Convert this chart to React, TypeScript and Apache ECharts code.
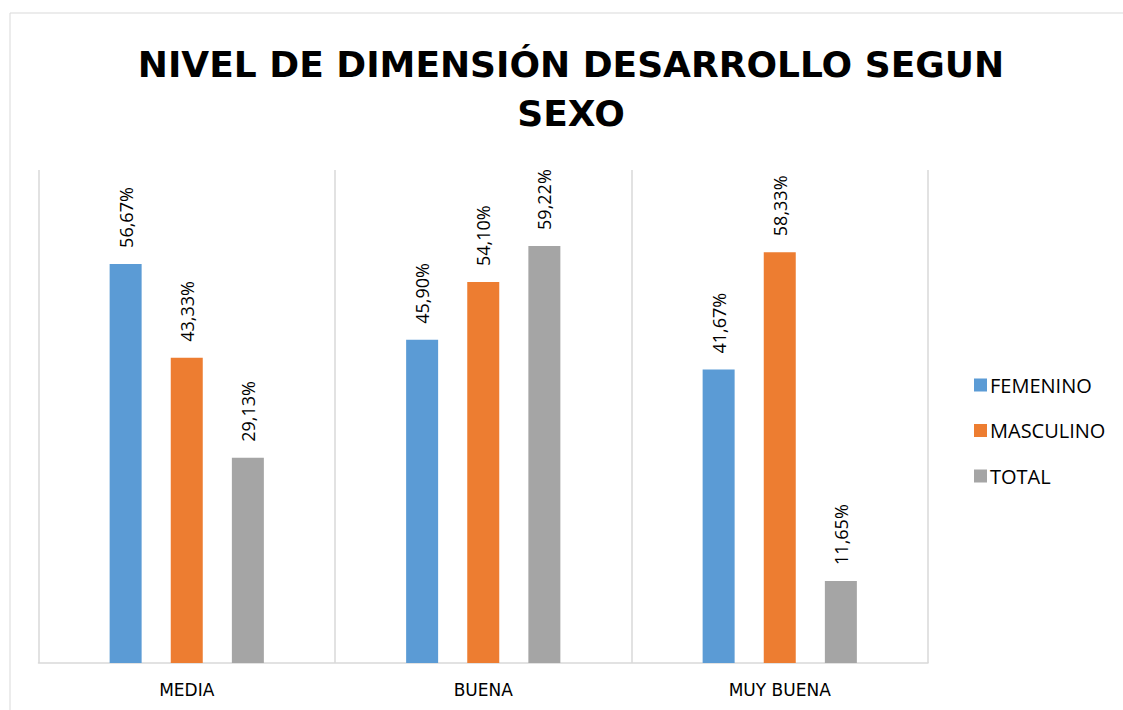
import React, { useEffect, useRef } from "react";
import * as echarts from "echarts";

const categories = ["MEDIA", "BUENA", "MUY BUENA"];
const femenino = [56.67, 45.9, 41.67];
const masculino = [43.33, 54.1, 58.33];
const total = [29.13, 59.22, 11.65];
const seriesNames = ["FEMENINO", "MASCULINO", "TOTAL"];
const colors = ["#5B9BD5", "#ED7D31", "#A5A5A5"];

const fmt = (v: number) => v.toFixed(2).replace(".", ",") + "%";

export default function App() {
  const ref = useRef<HTMLDivElement>(null);
  useEffect(() => {
    const chart = echarts.init(ref.current!, null, { renderer: "svg" });
    const data = [femenino, masculino, total];
    chart.setOption({
      animation: false,
      backgroundColor: "#ffffff",
      graphic: [
        {
          type: "rect",
          shape: { x: 10, y: 13, width: 1140, height: 720 },
          style: { fill: "none", stroke: "#d9d9d9", lineWidth: 1 },
          silent: true,
        },
      ],
      title: {
        text: "NIVEL DE DIMENSIÓN DESARROLLO SEGUN\nSEXO",
        left: 566,
        textAlign: "center",
        top: 35,
        textStyle: {
          fontFamily: "DejaVu Sans",
          fontWeight: "bold",
          fontSize: 36,
          color: "#000000",
          lineHeight: 49,
        },
      },
      legend: {
        orient: "vertical",
        left: 969,
        top: 370,
        itemWidth: 13,
        itemHeight: 13,
        itemGap: 25.5,
        icon: "rect",
        textStyle: { fontFamily: "Open Sans", fontSize: 20, color: "#000000", padding: [0, 0, 0, -2] },
        data: seriesNames,
      },
      grid: { left: 38.5, right: 195, top: 170, bottom: 47 },
      xAxis: {
        type: "category",
        data: categories,
        axisLine: { lineStyle: { color: "#d9d9d9", width: 1.5 } },
        axisTick: { show: false },
        splitLine: { show: true, lineStyle: { color: "#d9d9d9", width: 1.5 } },
        axisLabel: {
          fontFamily: "DejaVu Sans",
          fontSize: 17,
          color: "#000000",
          margin: 18,
        },
      },
      yAxis: {
        type: "value",
        min: 0,
        max: 70,
        show: false,
        splitLine: { show: false },
      },
      series: seriesNames.map((name, i) => ({
        name,
        type: "bar",
        data: data[i],
        barWidth: 32,
        barGap: "91%",
        itemStyle: { color: colors[i] },
        label: {
          show: true,
          position: "top",
          rotate: 90,
          align: "left",
          verticalAlign: "middle",
          distance: 16,
          fontFamily: "Open Sans",
          fontSize: 18,
          color: "#000000",
          formatter: (p: any) => fmt(p.value),
        },
      })),
    });
    return () => chart.dispose();
  }, []);
  return <div ref={ref} style={{ width: 1123, height: 710, position: "absolute", left: 0, top: 0 }} />;
}
